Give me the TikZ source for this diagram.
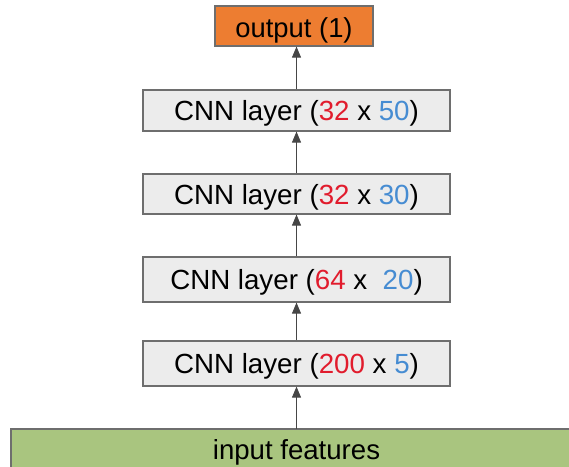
\documentclass[tikz,border=0pt]{standalone}
\usepackage{fontspec}
\setmainfont{Liberation Sans}
\usetikzlibrary{arrows.meta}
\definecolor{nred}{RGB}{225,28,45}
\definecolor{nblue}{RGB}{70,140,210}
\definecolor{boxgray}{RGB}{236,236,236}
\definecolor{edgegray}{RGB}{110,110,110}
\definecolor{outorange}{RGB}{237,125,49}
\definecolor{ingreen}{RGB}{169,197,127}
\definecolor{arrowgray}{RGB}{70,70,70}
\tikzset{
  layerbox/.style={draw=edgegray, line width=1.2pt, fill=boxgray, minimum width=307pt, inner sep=0pt,
    font=\fontsize{27.7}{30}\selectfont, text height=23pt, text depth=3pt},
  outbox/.style={draw=edgegray, line width=1.2pt, fill=outorange, minimum width=158pt, minimum height=40pt, inner sep=0pt,
    font=\fontsize{27.4}{30}\selectfont, text height=24pt, text depth=2pt},
  flow/.style={draw=arrowgray, line width=1pt, -{Triangle[length=11pt,width=9pt]}}
}
\begin{document}
\begin{tikzpicture}[x=1pt,y=-1pt]
\useasboundingbox (0,0) rectangle (569,466);
\node[outbox] (out) at (294,26) {output (1)};
\node[layerbox, minimum height=41pt] (c1) at (296.5,110.5) {CNN layer (\textcolor{nred}{32} x \textcolor{nblue}{50})};
\node[layerbox, minimum height=40pt] (c2) at (296.5,194) {CNN layer (\textcolor{nred}{32} x \textcolor{nblue}{30})};
\node[layerbox, minimum height=45pt] (c3) at (296.5,279.5) {CNN layer (\textcolor{nred}{64} x\ \ \textcolor{nblue}{20})};
\node[layerbox, minimum height=45pt] (c4) at (296.5,363.5) {CNN layer (\textcolor{nred}{200} x \textcolor{nblue}{5})};
\draw[draw=edgegray, line width=1.2pt, fill=ingreen] (11,429) rectangle (575,475);
\node[font=\fontsize{27.6}{30}\selectfont, text height=23pt, text depth=3pt, inner sep=0pt] (in) at (296.5,449) {input features};
\coordinate (intop) at (296.5,429);
\draw[flow] (intop) -- (c4.south -| intop);
\draw[flow] (c4.north -| intop) -- (c3.south -| intop);
\draw[flow] (c3.north -| intop) -- (c2.south -| intop);
\draw[flow] (c2.north -| intop) -- (c1.south -| intop);
\draw[flow] (c1.north -| intop) -- (out.south -| intop);
\end{tikzpicture}
\end{document}
